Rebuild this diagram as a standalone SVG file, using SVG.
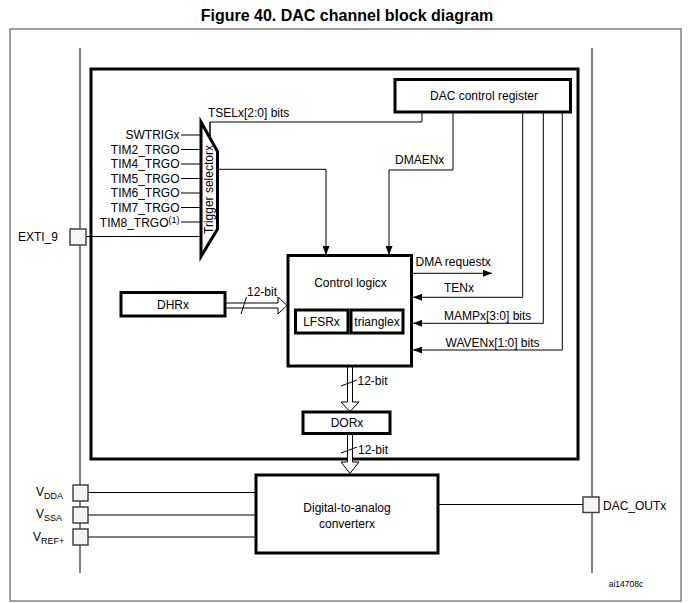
<svg xmlns="http://www.w3.org/2000/svg" width="693" height="603" viewBox="0 0 693 603">
<defs>
<marker id="ah" markerUnits="userSpaceOnUse" markerWidth="9" markerHeight="7" refX="9" refY="3.5" orient="auto">
<path d="M0,0 L9,3.5 L0,7 z" fill="#000"/>
</marker>
<style>
text{font-family:"Liberation Sans",Arial,sans-serif;font-size:12px;fill:#000}
.t{font-size:16px;font-weight:bold}
.s{font-size:8.5px}
.sub{font-size:9px}
.m{text-anchor:middle}
.e{text-anchor:end}
.box{fill:#fff;stroke:#000;stroke-width:3}
.ln{fill:none;stroke:#000;stroke-width:1}
.arr{fill:none;stroke:#000;stroke-width:1;marker-end:url(#ah)}
.bus{fill:#fff;stroke:#000;stroke-width:1}
.pin{fill:#f8f4f3;stroke:#444;stroke-width:1.5}
</style>
</defs>
<rect width="693" height="603" fill="#fff"/>
<text class="t m" x="347" y="21">Figure 40. DAC channel block diagram</text>
<rect x="10" y="29" width="671" height="572" fill="none" stroke="#808080" stroke-width="1.5"/>
<line class="ln" x1="80" y1="48" x2="80" y2="573"/>
<line class="ln" x1="592" y1="48" x2="592" y2="573"/>
<rect x="91" y="69" width="487" height="390" fill="none" stroke="#000" stroke-width="3"/>

<g id="connectors">
<path class="ln" d="M422,112 V122 H210 V137"/>
<path class="arr" d="M217,169.3 H326 V255"/>
<path class="arr" d="M453,112 V170 H389 V255"/>
<path class="ln" d="M181,135 H201 M181,149.5 H201 M181,164 H201 M181,178.5 H201 M181,193 H201 M181,207.5 H201 M181,222 H201"/>
<path class="ln" d="M86,236.5 H201"/>
<path class="arr" d="M412,273.3 H492"/>
<path class="arr" d="M522.7,112 V297.3 H413"/>
<path class="arr" d="M543.3,112 V323.3 H413"/>
<path class="arr" d="M562.3,112 V350 H413"/>
<path class="bus" d="M225,303 H278 V297 L287,305.5 L278,314 V308 H225"/>
<line class="ln" x1="241" y1="314" x2="246.5" y2="297"/>
<path class="bus" d="M347.5,367 V402 H341 L350,411.5 L359,402 H352.5 V367"/>
<line class="ln" x1="341" y1="386" x2="357" y2="380"/>
<path class="bus" d="M347.5,434 V462 H341 L350,473.5 L359,462 H352.5 V434"/>
<line class="ln" x1="341" y1="453" x2="357" y2="447"/>
<path class="ln" d="M88,492.5 H256 M88,515 H256 M88,537 H256"/>
<path class="ln" d="M438,504.5 H583"/>
</g>

<g id="trigger-selector">
<path d="M201,122 L217.5,151.5 V229 L201,256.5 z" fill="#fff" stroke="#000" stroke-width="3" stroke-linejoin="miter"/>
<line class="ln" x1="210" y1="122" x2="210" y2="137"/>
<text class="m" transform="translate(212.5,189.5) rotate(-90)">Trigger selectorx</text>
</g>

<g id="inputs">
<text class="e" x="179.5" y="139">SWTRIGx</text>
<text class="e" x="179.5" y="153.5">TIM2_TRGO</text>
<text class="e" x="179.5" y="168">TIM4_TRGO</text>
<text class="e" x="179.5" y="182.5">TIM5_TRGO</text>
<text class="e" x="179.5" y="197">TIM6_TRGO</text>
<text class="e" x="179.5" y="211.5">TIM7_TRGO</text>
<text class="e" x="179.5" y="226.5">TIM8_TRGO<tspan class="sub" dy="-4">(1)</tspan></text>
</g>

<text x="208" y="117">TSELx[2:0] bits</text>
<text x="395" y="164">DMAENx</text>

<g id="dac-control-register">
<rect class="box" x="395" y="79.5" width="175.5" height="32.5"/>
<text class="m" x="484" y="100">DAC control register</text>
</g>

<g id="control-logic">
<rect class="box" x="288" y="255.5" width="123.5" height="110.5"/>
<text class="m" x="350.5" y="287">Control logicx</text>
<rect class="box" x="295.5" y="310" width="52.5" height="23"/>
<text class="m" x="321.5" y="326">LFSRx</text>
<rect class="box" x="351" y="310" width="52" height="23"/>
<text class="m" x="377" y="326">trianglex</text>
</g>

<text x="415.5" y="266">DMA requestx</text>
<text x="444" y="292">TENx</text>
<text x="444" y="320">MAMPx[3:0] bits</text>
<text x="445.5" y="347">WAVENx[1:0] bits</text>

<g id="dhrx">
<rect class="box" x="121" y="292.5" width="104" height="23.5"/>
<text class="m" x="173" y="309">DHRx</text>
</g>
<text x="247" y="296">12-bit</text>

<g id="dorx">
<rect class="box" x="303" y="412" width="87" height="21.5"/>
<text class="m" x="347" y="427">DORx</text>
</g>
<text x="357.5" y="385">12-bit</text>
<text x="358" y="454">12-bit</text>

<g id="dac-converter">
<rect class="box" x="256" y="475" width="182" height="78"/>
<text class="m" x="347" y="512">Digital-to-analog</text>
<text class="m" x="347" y="528">converterx</text>
</g>

<g id="pin-exti9">
<rect class="pin" x="70" y="229" width="16" height="16"/>
<text x="18" y="241">EXTI_9</text>
</g>
<g id="pin-vdda">
<rect class="pin" x="73" y="485" width="15" height="16"/>
<text x="36" y="496">V<tspan class="sub" dy="3">DDA</tspan></text>
</g>
<g id="pin-vssa">
<rect class="pin" x="73" y="507" width="15" height="16"/>
<text x="36" y="518">V<tspan class="sub" dy="3">SSA</tspan></text>
</g>
<g id="pin-vref">
<rect class="pin" x="73" y="529" width="15" height="16"/>
<text x="33" y="541">V<tspan class="sub" dy="3">REF+</tspan></text>
</g>
<g id="pin-dacout">
<rect class="pin" x="583" y="497" width="16" height="15.5"/>
<text x="603" y="510">DAC_OUTx</text>
</g>
<text class="s m" x="626" y="587">ai14708c</text>
</svg>
